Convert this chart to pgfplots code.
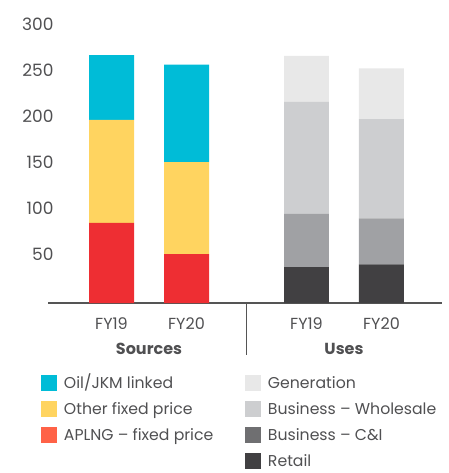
\documentclass[border=0pt]{standalone}
\usepackage{fontspec}
\setmainfont{Poppins}
\usepackage{pgfplots}
\pgfplotsset{compat=1.18}
\definecolor{cBlue}{HTML}{00BCD7}
\definecolor{cYellow}{HTML}{FFD460}
\definecolor{cRed}{HTML}{EE2E33}
\definecolor{cRedL}{HTML}{FF6247}
\definecolor{cGen}{HTML}{E8E8E8}
\definecolor{cWhole}{HTML}{CDCED0}
\definecolor{cCI}{HTML}{A0A1A4}
\definecolor{cCIL}{HTML}{6F6F71}
\definecolor{cRetail}{HTML}{414042}
\definecolor{txt}{HTML}{505052}
\definecolor{axc}{HTML}{555555}
\begin{document}
\begin{tikzpicture}
\path[use as bounding box] (0,0) rectangle (448pt,-473pt);
\begin{axis}[
  at={(48pt,-303pt)}, anchor=south west,
  scale only axis, width=394pt, height=276pt,
  xmin=-0.847, xmax=4.407, ymin=0, ymax=300,
  ybar stacked, bar width=0.6,
  axis line style={draw=none}, major tick length=0pt,
  ytick={50,100,150,200,250,300},
  xtick={0,1,2.6,3.6}, xticklabels={FY19,FY20,FY19,FY20},
  tick label style={text=txt},
  /pgf/number format/assume math mode=true,
  yticklabel style={font=\fontsize{17}{20}\selectfont, anchor=east, xshift=9pt, yshift=3pt},
  xticklabel style={font=\fontsize{16}{19}\selectfont, anchor=north, yshift=-11pt},
  clip=false,
  legend columns=2,
  legend cell align=left,
  legend image code/.code={\fill[#1, draw=none] (0pt,-8pt) rectangle (16pt,8pt);},
  legend style={at={(-0.0178,-0.262)}, anchor=north west, draw=none, fill=none,
    inner sep=0pt, outer sep=0pt, row sep=10pt,
    font=\fontsize{15.7}{19}\selectfont, text=txt,
    nodes={inner sep=0pt, text height=11pt, text depth=1pt},
    /tikz/every odd column/.append style={column sep=7pt},
    /tikz/every even column/.append style={column sep=0pt}},
]
\addplot[fill=cRed, draw=none, forget plot] coordinates {(0,87) (1,53) (2.6,0) (3.6,0)};
\addplot[fill=cYellow, draw=none, forget plot] coordinates {(0,112) (1,100) (2.6,0) (3.6,0)};
\addplot[fill=cBlue, draw=none, forget plot] coordinates {(0,70.5) (1,106) (2.6,0) (3.6,0)};
\addplot[fill=cRetail, draw=none, forget plot] coordinates {(0,0) (1,0) (2.6,39) (3.6,42)};
\addplot[fill=cCI, draw=none, forget plot] coordinates {(0,0) (1,0) (2.6,58) (3.6,50)};
\addplot[fill=cWhole, draw=none, forget plot] coordinates {(0,0) (1,0) (2.6,121.5) (3.6,108)};
\addplot[fill=cGen, draw=none, forget plot] coordinates {(0,0) (1,0) (2.6,50) (3.6,55)};
\addlegendimage{fill=cBlue}\addlegendentry{\makebox[181pt][l]{Oil/JKM linked}}
\addlegendimage{fill=cGen}\addlegendentry{Generation}
\addlegendimage{fill=cYellow}\addlegendentry{\makebox[181pt][l]{Other fixed price}}
\addlegendimage{fill=cWhole}\addlegendentry{Business – Wholesale}
\addlegendimage{fill=cRedL}\addlegendentry{\makebox[181pt][l]{APLNG – fixed price}}
\addlegendimage{fill=cCIL}\addlegendentry{Business – C\&I}
\addlegendimage{empty legend}\addlegendentry{}
\addlegendimage{fill=cRetail}\addlegendentry{Retail}
\draw[axc, line width=1.2pt] (rel axis cs:0,0) -- (rel axis cs:1,0);
\draw[axc, line width=1.2pt] (axis cs:1.8,0) -- ++(0pt,-52pt);
\node[font=\fontsize{16}{19}\selectfont\bfseries, text=txt] at ([yshift=-46pt]axis cs:0.5,0) {Sources};
\node[font=\fontsize{16}{19}\selectfont\bfseries, text=txt] at ([yshift=-46pt]axis cs:3.1,0) {Uses};
\end{axis}
\end{tikzpicture}
\end{document}
